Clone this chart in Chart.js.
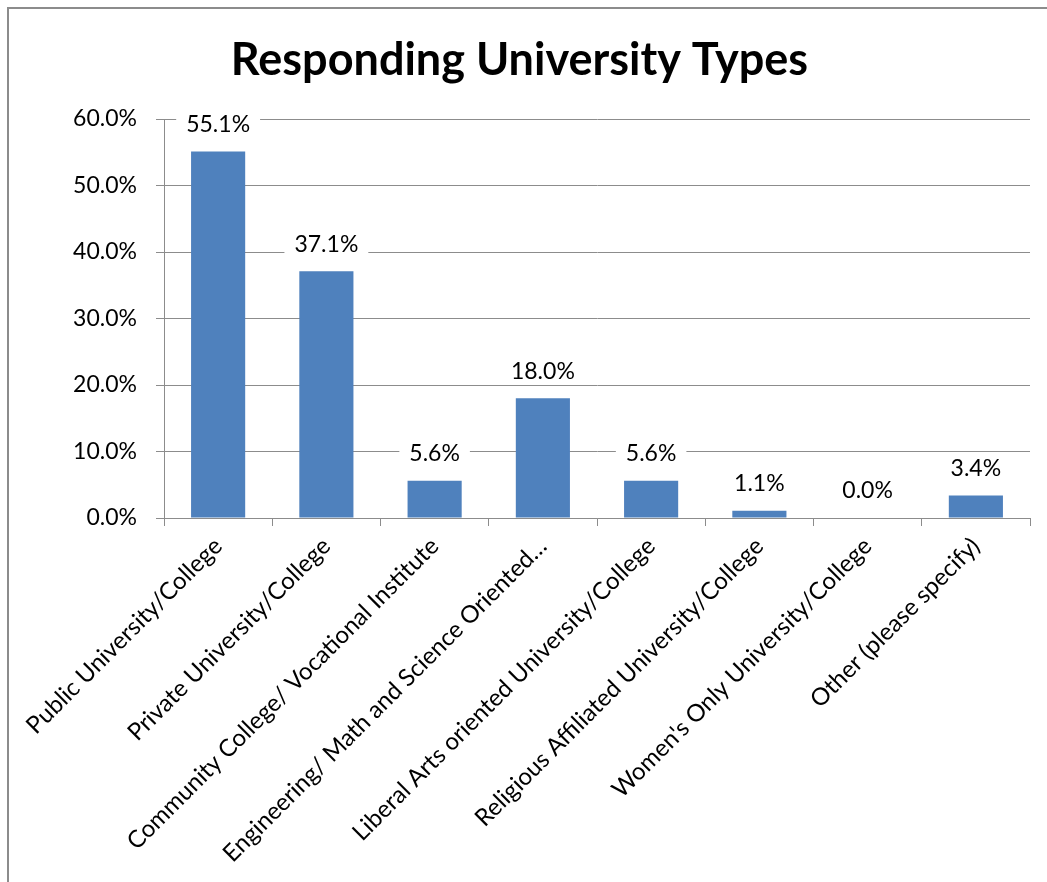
<!DOCTYPE html>
<html>
<head>
<meta charset="utf-8">
<script src="https://cdn.jsdelivr.net/npm/chart.js@4.4.1/dist/chart.umd.min.js"></script>
<style>
  body { margin: 0; background: #fff; }
  #frame { position: absolute; left: 7px; top: 7px; width: 1040px; height: 875px;
           border-top: 2px solid #8c8c8c; border-left: 2px solid #8c8c8c; }
  canvas { display: block; }
</style>
</head>
<body>
<div id="frame"><canvas id="chart-area" width="1038" height="873"></canvas></div>
<script>
var categories = [
    'Public University/College',
    'Private University/College',
    'Community College/ Vocational Institute',
    'Engineering/ Math and Science Oriented…',
    'Liberal Arts oriented University/College',
    'Religious Affiliated University/College',
    "Women's Only University/College",
    'Other (please specify)'
];
var percentValues = [55.1, 37.1, 5.6, 18.0, 5.6, 1.1, 0.0, 3.4];
var yTicks = [0, 10, 20, 30, 40, 50, 60];

var gridColor = '#8c8c8c';
var fontFamily = 'Lato, Carlito, Calibri, sans-serif';

// value labels above the bars, with a white box that hides the gridline
var barLabels = {
    id: 'barLabels',
    afterDatasetsDraw: function (chart) {
        var ctx = chart.ctx;
        var meta = chart.getDatasetMeta(0);
        ctx.save();
        ctx.font = '23px ' + fontFamily;
        ctx.textAlign = 'center';
        ctx.textBaseline = 'middle';
        meta.data.forEach(function (bar, i) {
            var txt = percentValues[i].toFixed(1) + '%';
            var w = ctx.measureText(txt).width;
            var cy = bar.y - 27;
            ctx.fillStyle = '#fff';
            ctx.fillRect(bar.x - w / 2 - 10, cy - 13, w + 20, 26);
            ctx.fillStyle = '#000';
            ctx.fillText(txt, bar.x, cy);
        });
        ctx.restore();
    }
};

var config = {
    type: 'bar',
    data: {
        labels: categories,
        datasets: [{
            data: percentValues,
            backgroundColor: '#4f81bd',
            borderWidth: 0,
            barPercentage: 0.5,
            categoryPercentage: 1.0
        }]
    },
    options: {
        responsive: false,
        animation: false,
        layout: { padding: { left: 0, right: 17, top: 0, bottom: 0 } },
        plugins: {
            legend: { display: false },
            tooltip: { enabled: false },
            title: {
                display: true,
                text: 'Responding University Types',
                color: '#000',
                font: { family: fontFamily, size: 45, weight: 'bold' },
                padding: { top: 24, bottom: 32 }
            }
        },
        scales: {
            x: {
                grid: { display: true, drawOnChartArea: false, drawTicks: true, tickLength: 8, color: gridColor, offset: true },
                border: { color: gridColor, width: 1 },
                ticks: {
                    color: '#000',
                    font: { family: fontFamily, size: 24 },
                    minRotation: 45, maxRotation: 45,
                    autoSkip: false,
                    padding: 6
                },
                afterFit: function (s) { s.height = 364; }
            },
            y: {
                min: 0, max: 60,
                afterBuildTicks: function (s) { s.ticks = yTicks.map(function (v) { return { value: v }; }); },
                grid: { color: gridColor, tickLength: 8, lineWidth: 1 },
                border: { color: gridColor, width: 1 },
                ticks: {
                    color: '#000',
                    font: { family: fontFamily, size: 23 },
                    padding: 19,
                    callback: function (v) { return v.toFixed(1) + '%'; }
                },
                afterFit: function (s) { s.width = 155; }
            }
        }
    },
    plugins: [barLabels]
};

var ctx = document.getElementById('chart-area').getContext('2d');
var myBar = new Chart(ctx, config);
</script>
</body>
</html>
